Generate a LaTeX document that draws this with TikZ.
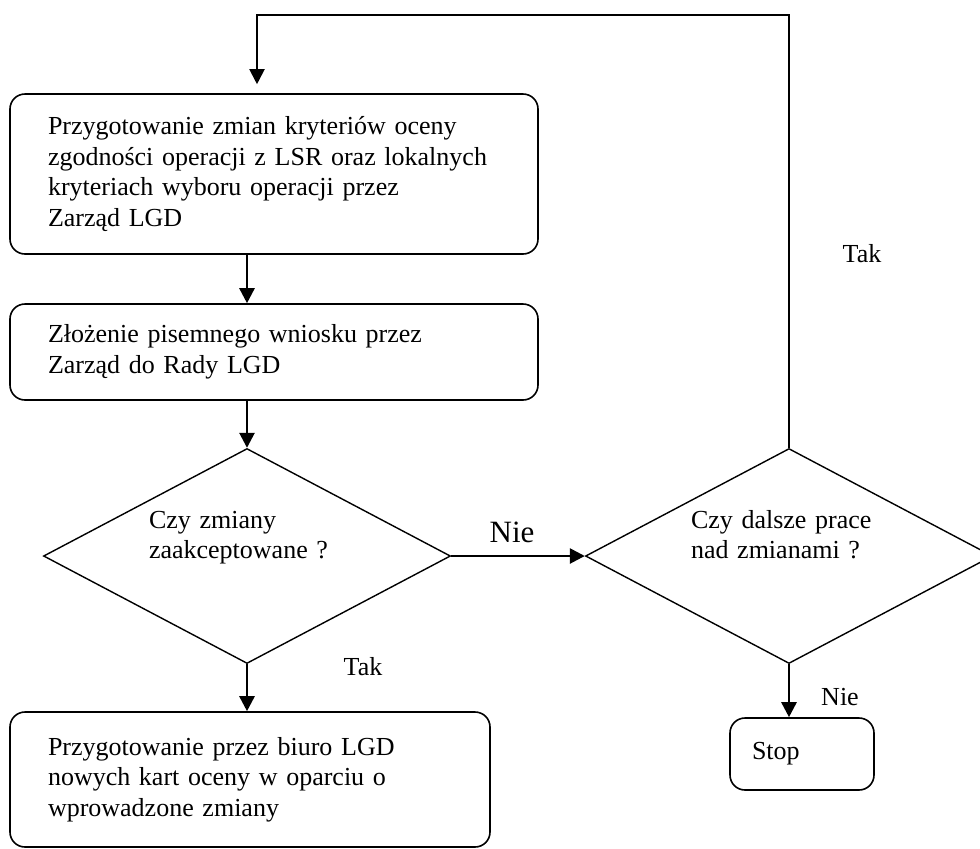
\documentclass[tikz,border=0pt]{standalone}
\usepackage{fontspec}
\setmainfont{Liberation Serif}
\usetikzlibrary{shapes.geometric,arrows.meta}
\tikzset{
  blok/.style={draw,line width=0.8pt,rounded corners=7.5pt,align=left,inner ysep=0pt,font=\fontsize{13}{15.3}\selectfont},
  pytanie/.style={draw,diamond,line width=0.7pt,aspect=1.9,inner sep=0pt,minimum width=203.5pt,minimum height=107.5pt,text width=98pt,align=left,text height=9pt,text depth=37pt,font=\fontsize{13}{15.3}\selectfont},
  strzalka/.style={line width=1.3pt,-{Triangle[width=7.5pt,length=7.5pt]}},
  opis/.style={font=\fontsize{13}{15.3}\selectfont}
}
\begin{document}
\begin{tikzpicture}[x=0.5pt,y=-0.5pt]
\useasboundingbox (0,0) rectangle (980,848);
\node[blok,text width=226pt,inner xsep=19pt,minimum height=80pt] (zmiany) at (274,174) {Przygotowanie zmian kryteriów oceny\\zgodności operacji z LSR oraz lokalnych\\kryteriach wyboru operacji przez\\Zarząd LGD};
\node[blok,text width=226pt,inner xsep=19pt,minimum height=48pt] (wniosek) at (274,352) {Złożenie pisemnego wniosku przez\\Zarząd do Rady LGD};
\node[pytanie] (akcept) at (247,556) {Czy zmiany\\zaakceptowane ?};
\node[pytanie] (dalsze) at (789,556) {Czy dalsze prace\\nad zmianami ?};
\node[blok,text width=202pt,inner xsep=19pt,minimum height=67.5pt] (karty) at (250,779.5) {Przygotowanie przez biuro LGD\\nowych kart oceny w oparciu o\\wprowadzone zmiany};
\node[blok,text width=50pt,inner xsep=11pt,minimum height=36pt] (stop) at (802,754) {Stop};
\coordinate (naroznik) at (257,15);
\draw[strzalka,line width=1pt,shorten >=4.5pt] (dalsze.north) |- (naroznik) -- (naroznik |- zmiany.north);
\draw[strzalka] (zmiany.south -| akcept.north) -- (wniosek.north -| akcept.north);
\draw[strzalka] (wniosek.south -| akcept.north) -- (akcept.north);
\draw[strzalka] (akcept.east) -- (dalsze.west);
\draw[strzalka] (akcept.south) -- (karty.north -| akcept.south);
\draw[strzalka] (dalsze.south) -- (stop.north -| dalsze.south);
\node[opis] (tak1) at (862,254) {Tak};
\node[opis] (tak2) at (363,667) {Tak};
\node[opis] (nie2) at (840,697) {Nie};
\node[font=\fontsize{15.5}{18}\selectfont] (nie1) at (512,532) {Nie};
\end{tikzpicture}
\end{document}
